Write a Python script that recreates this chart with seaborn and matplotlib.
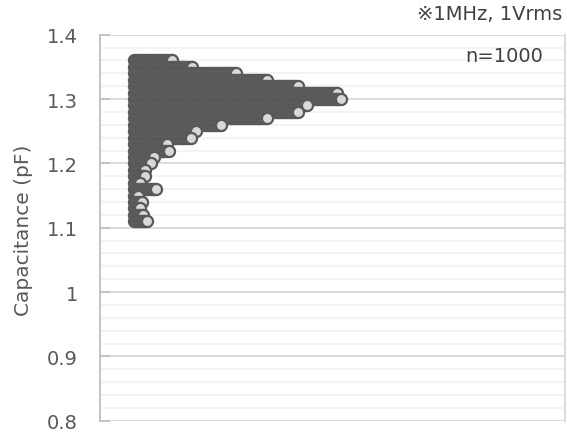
import numpy as np
import pandas as pd
import matplotlib
matplotlib.use("Agg")
import matplotlib.pyplot as plt
from matplotlib.ticker import MultipleLocator, FixedLocator, FixedFormatter
import seaborn as sns

# Measured capacitance levels (pF) and number of parts at each level
capacitance = [1.36, 1.35, 1.34, 1.33, 1.32, 1.31, 1.30, 1.29, 1.28, 1.27,
               1.26, 1.25, 1.24, 1.23, 1.22, 1.21, 1.20, 1.19, 1.18, 1.17,
               1.16, 1.15, 1.14, 1.13, 1.12, 1.11]
counts = [22, 33, 57, 74, 91, 113, 115, 96, 91, 74,
          49, 35, 32, 19, 20, 12, 10, 7, 7, 4,
          13, 3, 5, 4, 6, 8]

y_ticks = [0.8, 0.9, 1.0, 1.1, 1.2, 1.3, 1.4]
y_tick_labels = ["0.8", "0.9", "1", "1.1", "1.2", "1.3", "1.4"]
condition_note = "※1MHz, 1Vrms"
sample_note = "n=1000"

# Expand into one row per part; x is the running index within each level
df = pd.DataFrame({"cap": np.repeat(capacitance, counts)})
df["idx"] = df.groupby("cap", sort=False).cumcount()

sns.set_theme(style="white")
plt.rcParams["font.family"] = ["DejaVu Sans", "Noto Sans CJK JP"]

text_color = "#595959"
fig = plt.figure(figsize=(5.67, 4.39), dpi=100)
ax = fig.add_axes([100 / 567, 17.3 / 439, 465 / 567, 386 / 439])

sns.scatterplot(data=df, x="idx", y="cap", ax=ax, s=64, color="#d9d9d9",
                edgecolor="#595959", linewidth=1.6, zorder=3, legend=False)

ax.set_xlim(-19.0, 237.6)
ax.set_ylim(0.8, 1.4)
ax.set_xticks([])
ax.set_xlabel("")

ax.yaxis.set_major_locator(FixedLocator(y_ticks))
ax.yaxis.set_major_formatter(FixedFormatter(y_tick_labels))
ax.yaxis.set_minor_locator(MultipleLocator(0.02))
ax.grid(which="major", axis="y", color="#d9d9d9", linewidth=1.3, zorder=0)
ax.grid(which="minor", axis="y", color="#f2f2f2", linewidth=1.3, zorder=0)
ax.set_axisbelow(True)

ax.tick_params(axis="y", which="major", direction="in", length=7, width=1.3,
               color="#bfbfbf", pad=16, labelsize=14, labelcolor=text_color, left=True)
ax.tick_params(axis="y", which="minor", left=False)

for side in ["top", "bottom"]:
    ax.spines[side].set_visible(False)
ax.spines["left"].set_color("#bfbfbf")
ax.spines["left"].set_linewidth(1.3)
ax.spines["right"].set_color("#d9d9d9")
ax.spines["right"].set_linewidth(1.3)

ax.set_ylabel("Capacitance (pF)", fontsize=14.5, color=text_color)
ax.yaxis.set_label_coords(-0.144, 0.495)

fig.text(562 / 567, 1 - 14 / 439, condition_note, ha="right", va="center",
         fontsize=14, color="#404040")
fig.text(543 / 567, 1 - 57 / 439, sample_note, ha="right", va="center",
         fontsize=14, color="#404040")

fig.savefig("out.png", dpi=100, facecolor="white")
